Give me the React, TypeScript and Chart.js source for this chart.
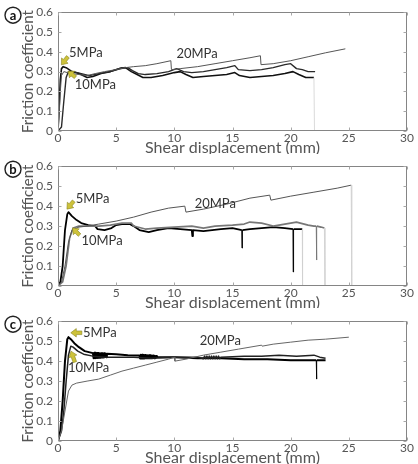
import React, { useEffect, useRef } from "react";
import { Chart, registerables } from "chart.js";

Chart.register(...registerables);

const FONT = "Lato, 'Open Sans', sans-serif";

// Axis ticks shared by all three panels
const xTicks = [0, 5, 10, 15, 20, 25, 30];
const yTicks = [0, 0.1, 0.2, 0.3, 0.4, 0.5, 0.6];

// ---- Panel (a) ----
const a5x = [0, 0.1, 0.2, 0.3, 0.45, 0.7, 1.2, 1.8, 2.5, 3.0, 3.7, 4.5, 5.3, 5.8, 6.3, 6.8, 7.3, 8.0, 9.0, 10.0, 10.5, 11.0, 11.6, 12.5, 13.5, 14.5, 15.2, 15.6, 16.5, 17.5, 18.5, 19.5, 20.2, 20.7, 21.3, 22.0, 22.05];
const a5y = [0, 0.12, 0.26, 0.315, 0.325, 0.32, 0.3, 0.29, 0.27, 0.275, 0.29, 0.3, 0.315, 0.32, 0.3, 0.285, 0.27, 0.27, 0.28, 0.295, 0.3, 0.285, 0.27, 0.275, 0.28, 0.285, 0.295, 0.28, 0.27, 0.275, 0.28, 0.29, 0.3, 0.285, 0.27, 0.27, 0];
const a10x = [0, 0.3, 0.5, 0.7, 0.9, 1.3, 2.0, 2.7, 3.5, 4.5, 5.5, 6.0, 6.4, 6.9, 7.5, 8.5, 9.5, 10.2, 10.8, 11.5, 12.5, 13.5, 14.5, 15.2, 15.5, 16.5, 17.5, 18.5, 19.5, 20.0, 20.5, 21.0, 21.5, 22.1];
const a10y = [0, 0.02, 0.15, 0.27, 0.3, 0.3, 0.29, 0.28, 0.29, 0.3, 0.32, 0.32, 0.305, 0.29, 0.285, 0.29, 0.3, 0.315, 0.3, 0.295, 0.3, 0.31, 0.32, 0.33, 0.31, 0.305, 0.31, 0.32, 0.335, 0.34, 0.315, 0.31, 0.3, 0.3];
const a20x = [0, 0.1, 0.2, 0.3, 0.5, 0.8, 1.2, 1.8, 2.5, 3.2, 4.0, 5.0, 5.8, 6.5, 7.5, 8.5, 9.7, 9.75, 10.5, 12, 13.5, 15, 16.5, 17.4, 17.45, 18.5, 20, 21.5, 23, 24.7];
const a20y = [0, 0.08, 0.2, 0.28, 0.3, 0.295, 0.29, 0.285, 0.28, 0.29, 0.3, 0.31, 0.32, 0.325, 0.33, 0.34, 0.355, 0.31, 0.315, 0.325, 0.34, 0.355, 0.37, 0.38, 0.335, 0.34, 0.355, 0.375, 0.395, 0.415];

// ---- Panel (b) ----
const b5x = [0, 0.2, 0.4, 0.6, 0.8, 0.9, 1.2, 1.6, 2.0, 2.6, 3.2, 3.4, 4.0, 4.6, 5.0, 5.5, 6.2, 6.5, 7.0, 7.8, 8.5, 9.5, 10.5, 11.5, 11.55, 11.6, 12.5, 14, 15.0, 15.8, 15.82, 15.85, 16.5, 17.5, 18.5, 19.5, 20.2, 20.22, 20.25, 20.8, 21.0, 21.02];
const b5y = [0, 0.02, 0.1, 0.28, 0.36, 0.37, 0.35, 0.33, 0.315, 0.305, 0.3, 0.285, 0.28, 0.29, 0.305, 0.31, 0.31, 0.3, 0.28, 0.27, 0.28, 0.29, 0.285, 0.28, 0.25, 0.28, 0.275, 0.285, 0.29, 0.28, 0.19, 0.28, 0.285, 0.29, 0.295, 0.29, 0.285, 0.07, 0.285, 0.285, 0.285, 0];
const b10x = [0, 0.4, 0.7, 1.0, 1.3, 1.8, 2.5, 3.5, 4.5, 5.5, 6.3, 6.5, 7.5, 8.5, 10, 11.5, 12.5, 13.5, 15, 16.0, 16.5, 17.5, 18.5, 19.5, 20.5, 21.5, 22.0, 22.2, 22.22, 22.25, 22.6, 22.9, 22.95];
const b10y = [0, 0.02, 0.1, 0.24, 0.29, 0.3, 0.3, 0.3, 0.305, 0.315, 0.315, 0.3, 0.285, 0.29, 0.295, 0.3, 0.29, 0.3, 0.305, 0.31, 0.32, 0.315, 0.3, 0.31, 0.32, 0.305, 0.3, 0.3, 0.13, 0.3, 0.295, 0.29, 0];
const b20x = [0, 0.3, 0.6, 0.9, 1.2, 1.8, 2.5, 3.5, 5.0, 6.5, 8.0, 9.5, 10.9, 11.0, 12.5, 14.5, 16.5, 18.2, 18.3, 20, 22, 24, 25.2, 25.25];
const b20y = [0, 0.02, 0.1, 0.22, 0.28, 0.295, 0.3, 0.31, 0.325, 0.345, 0.37, 0.39, 0.4, 0.37, 0.385, 0.41, 0.44, 0.455, 0.43, 0.45, 0.47, 0.49, 0.505, 0];

// ---- Panel (c) ----
const c5x = [0, 0.2, 0.4, 0.6, 0.8, 0.9, 1.1, 1.4, 1.8, 2.3, 3.0,
  3.06, 3.12, 3.18, 3.24, 3.3, 3.36, 3.42, 3.48, 3.54, 3.6, 3.66, 3.72, 3.78, 3.84, 3.9, 3.96, 4.02, 4.08, 4.14, 4.2,
  5.0, 6.0, 7.0,
  7.06, 7.12, 7.18, 7.24, 7.3, 7.36, 7.42, 7.48, 7.54, 7.6, 7.66, 7.72, 7.78, 7.84, 7.9, 7.96, 8.02, 8.08, 8.14, 8.2, 8.26, 8.32, 8.38, 8.44, 8.5,
  9.0, 10.0, 12.0, 14.0, 16.0, 18.0, 20.0, 22.0, 22.2, 22.22, 22.25, 23.0];
const c5y = [0, 0.05, 0.2, 0.4, 0.51, 0.52, 0.51, 0.49, 0.47, 0.45, 0.44,
  0.415, 0.442, 0.415, 0.442, 0.416, 0.441, 0.416, 0.441, 0.417, 0.44, 0.417, 0.44, 0.418, 0.44, 0.418, 0.439, 0.42, 0.438, 0.42, 0.437,
  0.435, 0.43, 0.428,
  0.413, 0.432, 0.413, 0.432, 0.413, 0.431, 0.413, 0.431, 0.414, 0.43, 0.414, 0.43, 0.414, 0.429, 0.414, 0.429, 0.415, 0.428, 0.415, 0.428, 0.415, 0.427, 0.415, 0.426, 0.42,
  0.42, 0.42, 0.415, 0.415, 0.41, 0.41, 0.405, 0.405, 0.405, 0.31, 0.405, 0.405];
const c10x = [0, 0.3, 0.5, 0.7, 0.9, 1.1, 1.3, 1.7, 2.2, 3.0, 4.0, 5.0, 6.5, 8.0, 10.0, 12.0,
  12.5, 12.6, 12.7, 12.8, 12.9, 13.0, 13.1, 13.2, 13.3, 13.4, 13.5, 13.6, 13.7, 13.8, 13.9, 14.0,
  16.0, 17.5, 19.0, 20.5, 22.0, 22.5, 23.0];
const c10y = [0, 0.05, 0.15, 0.3, 0.43, 0.475, 0.47, 0.45, 0.435, 0.425, 0.42, 0.42, 0.42, 0.415, 0.42, 0.42,
  0.412, 0.425, 0.412, 0.425, 0.412, 0.425, 0.412, 0.425, 0.412, 0.425, 0.412, 0.425, 0.412, 0.425, 0.412, 0.42,
  0.425, 0.425, 0.43, 0.425, 0.43, 0.42, 0.415];
const c20x = [0, 0.3, 0.6, 0.9, 1.2, 1.6, 2.5, 3.5, 4.5, 5.5, 6.5, 7.5, 8.5, 9.5, 10.0, 10.05, 11.0, 12.5, 14, 15.5, 17.5, 17.55, 18.5, 20, 21.5, 23, 25.0];
const c20y = [0, 0.05, 0.15, 0.25, 0.28, 0.29, 0.3, 0.31, 0.33, 0.35, 0.365, 0.38, 0.395, 0.41, 0.42, 0.4, 0.41, 0.43, 0.445, 0.46, 0.48, 0.475, 0.485, 0.495, 0.505, 0.51, 0.52];

type Note = { text: string; x: number; y: number };
type Arrow = { x1: number; y1: number; x2: number; y2: number };
type Line = { xs: number[]; ys: number[]; color: string; width: number };
type Panel = {
  tag: string;
  top: number;
  height: number;
  frameHeight: number;
  lines: Line[];
  notes: Note[];
  arrows: Arrow[];
};

const panels: Panel[] = [
  {
    tag: "a",
    top: 0,
    height: 154,
    frameHeight: 120,
    lines: [
      { xs: a20x, ys: a20y, color: "#555555", width: 1 },
      { xs: a10x, ys: a10y, color: "#2a2a2a", width: 1.4 },
      { xs: a5x, ys: a5y, color: "#111111", width: 1.6 },
    ],
    notes: [
      { text: "5MPa", x: 0.95, y: 0.396 },
      { text: "10MPa", x: 1.44, y: 0.233 },
      { text: "20MPa", x: 10.18, y: 0.39 },
    ],
    arrows: [
      { x1: 0.85, y1: 0.375, x2: 0.29, y2: 0.334 },
      { x1: 1.5, y1: 0.272, x2: 0.86, y2: 0.302 },
    ],
  },
  {
    tag: "b",
    top: 154,
    height: 154,
    frameHeight: 121,
    lines: [
      { xs: b20x, ys: b20y, color: "#555555", width: 1 },
      { xs: b10x, ys: b10y, color: "#777777", width: 1.6 },
      { xs: b5x, ys: b5y, color: "#000000", width: 1.8 },
    ],
    notes: [
      { text: "5MPa", x: 1.52, y: 0.435 },
      { text: "10MPa", x: 2.01, y: 0.228 },
      { text: "20MPa", x: 11.75, y: 0.41 },
    ],
    arrows: [
      { x1: 1.35, y1: 0.425, x2: 0.77, y2: 0.385 },
      { x1: 1.85, y1: 0.255, x2: 1.24, y2: 0.291 },
    ],
  },
  {
    tag: "c",
    top: 309,
    height: 155,
    frameHeight: 121,
    lines: [
      { xs: c20x, ys: c20y, color: "#666666", width: 1 },
      { xs: c10x, ys: c10y, color: "#222222", width: 1.5 },
      { xs: c5x, ys: c5y, color: "#000000", width: 2 },
    ],
    notes: [
      { text: "5MPa", x: 2.15, y: 0.542 },
      { text: "10MPa", x: 0.86, y: 0.368 },
      { text: "20MPa", x: 12.18, y: 0.5 },
    ],
    arrows: [
      { x1: 2.05, y1: 0.542, x2: 1.1, y2: 0.542 },
      { x1: 1.45, y1: 0.395, x2: 1.12, y2: 0.45 },
    ],
  },
];

function drawArrow(ctx: CanvasRenderingContext2D, x1: number, y1: number, x2: number, y2: number) {
  const len = Math.hypot(x2 - x1, y2 - y1) || 1;
  const ux = (x2 - x1) / len;
  const uy = (y2 - y1) / len;
  const nx = -uy;
  const ny = ux;
  const hl = Math.min(5.5, len * 0.55);
  const hw = 4.2;
  const sw = 1.8;
  const bx = x2 - ux * hl;
  const by = y2 - uy * hl;
  ctx.beginPath();
  ctx.moveTo(x1 + nx * sw, y1 + ny * sw);
  ctx.lineTo(bx + nx * sw, by + ny * sw);
  ctx.lineTo(bx + nx * hw, by + ny * hw);
  ctx.lineTo(x2, y2);
  ctx.lineTo(bx - nx * hw, by - ny * hw);
  ctx.lineTo(bx - nx * sw, by - ny * sw);
  ctx.lineTo(x1 - nx * sw, y1 - ny * sw);
  ctx.closePath();
  ctx.fillStyle = "#cdc23a";
  ctx.fill();
  ctx.lineWidth = 0.6;
  ctx.strokeStyle = "#8a8420";
  ctx.stroke();
}

function makeDecor(panel: Panel) {
  return {
    id: "decor",
    afterDatasetsDraw(chart: any) {
      const { ctx, chartArea: ca, scales } = chart;
      const xs = scales.x;
      const ys = scales.y;
      ctx.save();
      // box frame
      ctx.strokeStyle = "#858585";
      ctx.lineWidth = 1;
      const l = Math.round(ca.left) + 0.5;
      const t = Math.round(ca.top) + 0.5;
      const r = Math.round(ca.right) - 0.5;
      const b = Math.round(ca.bottom) - 0.5;
      ctx.strokeRect(l, t, r - l, b - t);
      // small inward tick marks
      ctx.strokeStyle = "#a8a8a8";
      ctx.beginPath();
      for (const v of yTicks) {
        const py = Math.round(ys.getPixelForValue(v)) + 0.5;
        ctx.moveTo(l, py);
        ctx.lineTo(l + 3, py);
        ctx.moveTo(r, py);
        ctx.lineTo(r - 3, py);
      }
      for (const v of xTicks) {
        const px = Math.round(xs.getPixelForValue(v)) + 0.5;
        ctx.moveTo(px, b);
        ctx.lineTo(px, b - 3);
        ctx.moveTo(px, t);
        ctx.lineTo(px, t + 3);
      }
      ctx.stroke();
      // arrows and pressure labels
      for (const a of panel.arrows) {
        drawArrow(
          ctx,
          xs.getPixelForValue(a.x1),
          ys.getPixelForValue(a.y1),
          xs.getPixelForValue(a.x2),
          ys.getPixelForValue(a.y2)
        );
      }
      ctx.font = `13px ${FONT}`;
      ctx.fillStyle = "#333333";
      ctx.textAlign = "left";
      ctx.textBaseline = "middle";
      for (const n of panel.notes) {
        ctx.fillText(n.text, xs.getPixelForValue(n.x), ys.getPixelForValue(n.y));
      }
      // circled panel letter
      const cx = 13;
      const cy = ca.top + 3;
      ctx.beginPath();
      ctx.arc(cx, cy, 8, 0, Math.PI * 2);
      ctx.lineWidth = 1.4;
      ctx.strokeStyle = "#222222";
      ctx.stroke();
      ctx.font = `bold 13px ${FONT}`;
      ctx.fillStyle = "#111111";
      ctx.textAlign = "center";
      ctx.fillText(panel.tag, cx, cy + 0.5);
      ctx.restore();
    },
  };
}

// unloading drops at the end of a run are faint, stick-slip spikes are thin
const isEndDrop = (c: any) => c.p1.parsed.y === 0 && c.p0.parsed.y > 0.05 && c.p1.parsed.x > 15;
const isSpike = (c: any) =>
  Math.abs(c.p1.parsed.x - c.p0.parsed.x) < 0.04 && Math.abs(c.p1.parsed.y - c.p0.parsed.y) > 0.05;

function FrictionPanel({ panel }: { panel: Panel }) {
  const ref = useRef<HTMLCanvasElement | null>(null);

  useEffect(() => {
    const canvas = ref.current;
    if (!canvas) return;
    const padTop = 11;
    const xAxisHeight = panel.height - padTop - panel.frameHeight;
    const tickFont = { family: FONT, size: 12 };
    const chart = new Chart(canvas, {
      type: "scatter",
      data: {
        datasets: panel.lines.map((ln) => ({
          data: ln.xs.map((x, i) => ({ x, y: ln.ys[i] })),
          showLine: true,
          borderColor: ln.color,
          borderWidth: ln.width,
          borderJoinStyle: "round",
          pointRadius: 0,
          tension: 0,
          fill: false,
          segment: {
            borderColor: (c: any) => (isEndDrop(c) ? "#d0d0d0" : undefined),
            borderWidth: (c: any) => (isEndDrop(c) ? 0.8 : isSpike(c) ? 1 : undefined),
          },
        })),
      },
      options: {
        responsive: false,
        animation: false,
        events: [],
        layout: { padding: { top: padTop, right: 11, left: 0, bottom: 0 } },
        plugins: {
          legend: { display: false },
          tooltip: { enabled: false },
          title: { display: false },
        },
        scales: {
          x: {
            type: "linear",
            min: 0,
            max: 30,
            afterBuildTicks: (s: any) => {
              s.ticks = xTicks.map((v) => ({ value: v }));
            },
            afterFit: (s: any) => {
              s.height = xAxisHeight;
            },
            grid: { display: false, drawTicks: false },
            border: { display: false },
            ticks: {
              color: "#555555",
              font: tickFont,
              padding: 0,
              maxRotation: 0,
              autoSkip: false,
              callback: (v: any) => String(v),
            },
            title: {
              display: true,
              text: "Shear displacement (mm)",
              color: "#555555",
              font: { family: FONT, size: 16 },
              padding: { top: 0, bottom: xAxisHeight - 26 },
            },
          },
          y: {
            type: "linear",
            min: 0,
            max: 0.6,
            afterBuildTicks: (s: any) => {
              s.ticks = yTicks.map((v) => ({ value: v }));
            },
            afterFit: (s: any) => {
              s.width = 58;
            },
            grid: { display: false, drawTicks: false },
            border: { display: false },
            ticks: {
              color: "#555555",
              font: tickFont,
              padding: 5,
              autoSkip: false,
              callback: (v: any) => (Number(v) === 0 ? "0" : Number(v).toFixed(1)),
            },
            title: {
              display: true,
              text: "Friction coefficient",
              color: "#555555",
              font: { family: FONT, size: 15 },
              padding: { top: 19, bottom: 0 },
            },
          },
        },
      },
      plugins: [makeDecor(panel)],
    } as any);
    return () => chart.destroy();
  }, [panel]);

  return (
    <canvas
      ref={ref}
      width={418}
      height={panel.height}
      style={{ position: "absolute", left: 0, top: panel.top, width: 418, height: panel.height }}
    />
  );
}

export default function App() {
  return (
    <div
      style={{
        position: "absolute",
        left: 0,
        top: 0,
        width: 418,
        height: 464,
        background: "#ffffff",
        overflow: "hidden",
      }}
    >
      {panels.map((p) => (
        <FrictionPanel key={p.tag} panel={p} />
      ))}
    </div>
  );
}
